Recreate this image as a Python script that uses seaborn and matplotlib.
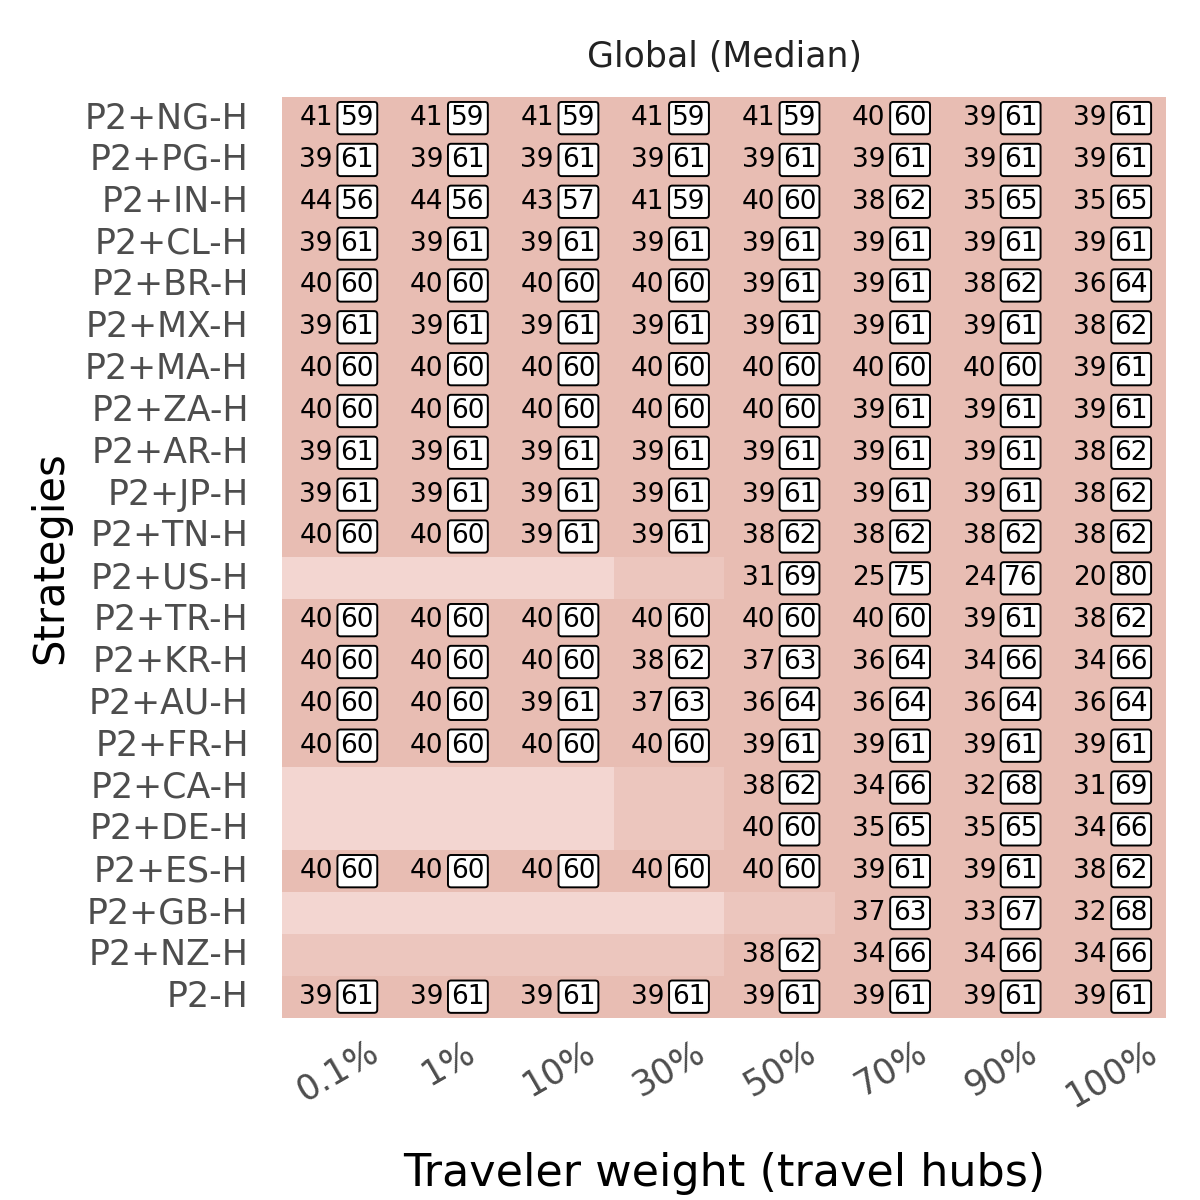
import numpy as np
import pandas as pd
import matplotlib.pyplot as plt
import seaborn as sns
from matplotlib.colors import ListedColormap

strategies = ["P2+NG-H", "P2+PG-H", "P2+IN-H", "P2+CL-H", "P2+BR-H", "P2+MX-H",
              "P2+MA-H", "P2+ZA-H", "P2+AR-H", "P2+JP-H", "P2+TN-H", "P2+US-H",
              "P2+TR-H", "P2+KR-H", "P2+AU-H", "P2+FR-H", "P2+CA-H", "P2+DE-H",
              "P2+ES-H", "P2+GB-H", "P2+NZ-H", "P2-H"]
weights = ["0.1%", "1%", "10%", "30%", "50%", "70%", "90%", "100%"]

# left share per cell (right share = 100 - left); NaN = no result
N = np.nan
left = [
    [41, 41, 41, 41, 41, 40, 39, 39],
    [39, 39, 39, 39, 39, 39, 39, 39],
    [44, 44, 43, 41, 40, 38, 35, 35],
    [39, 39, 39, 39, 39, 39, 39, 39],
    [40, 40, 40, 40, 39, 39, 38, 36],
    [39, 39, 39, 39, 39, 39, 39, 38],
    [40, 40, 40, 40, 40, 40, 40, 39],
    [40, 40, 40, 40, 40, 39, 39, 39],
    [39, 39, 39, 39, 39, 39, 39, 38],
    [39, 39, 39, 39, 39, 39, 39, 38],
    [40, 40, 39, 39, 38, 38, 38, 38],
    [N, N, N, N, 31, 25, 24, 20],
    [40, 40, 40, 40, 40, 40, 39, 38],
    [40, 40, 40, 38, 37, 36, 34, 34],
    [40, 40, 39, 37, 36, 36, 36, 36],
    [40, 40, 40, 40, 39, 39, 39, 39],
    [N, N, N, N, 38, 34, 32, 31],
    [N, N, N, N, 40, 35, 35, 34],
    [40, 40, 40, 40, 40, 39, 39, 38],
    [N, N, N, N, N, 37, 33, 32],
    [N, N, N, N, 38, 34, 34, 34],
    [39, 39, 39, 39, 39, 39, 39, 39],
]
# background shade level per cell (0 light, 1 mid, 2 full)
shade = [
    [2] * 8, [2] * 8, [2] * 8, [2] * 8, [2] * 8, [2] * 8, [2] * 8, [2] * 8,
    [2] * 8, [2] * 8, [2] * 8,
    [0, 0, 0, 1, 2, 2, 2, 2],
    [2] * 8, [2] * 8, [2] * 8, [2] * 8,
    [0, 0, 0, 1, 2, 2, 2, 2],
    [0, 0, 0, 1, 2, 2, 2, 2],
    [2] * 8,
    [0, 0, 0, 0, 1, 2, 2, 2],
    [1, 1, 1, 1, 2, 2, 2, 2],
    [2] * 8,
]

df_shade = pd.DataFrame(shade, index=strategies, columns=weights)
df_left = pd.DataFrame(left, index=strategies, columns=weights)

plt.rcParams['font.family'] = ['DejaVu Sans']
fig = plt.figure(figsize=(12, 12), dpi=100)
ax = fig.add_axes([0.235, 0.152, 0.737, 0.767])
cmap = ListedColormap(["#F3D6D1", "#ECC6BE", "#E8BDB3"])
sns.heatmap(df_shade, cmap=cmap, vmin=-0.5, vmax=2.5, cbar=False, ax=ax)

for i, s in enumerate(strategies):
    for j, w in enumerate(weights):
        v = df_left.loc[s, w]
        if np.isnan(v):
            continue
        ax.text(j + 0.46, i + 0.5, f"{int(v)}", ha="right", va="center", fontsize=19)
        ax.text(j + 0.53, i + 0.5, f"{int(100 - v)}", ha="left", va="center", fontsize=19,
                bbox=dict(boxstyle="round,pad=0.12", fc="white", ec="black", lw=1.4))

ax.set_title("Global (Median)", fontsize=25, color="#222222", pad=22)
ax.set_xlabel("Traveler weight (travel hubs)", fontsize=32, labelpad=28)
ax.set_ylabel("Strategies", fontsize=30, labelpad=10)
ax.tick_params(length=0)
ax.tick_params(axis="y", pad=24)
ax.tick_params(axis="x", pad=12)
ax.set_yticklabels(strategies, rotation=0, fontsize=25, color="#4d4d4d")
ax.set_xticklabels(weights, rotation=30, fontsize=25, color="#4d4d4d", ha="center")
fig.savefig("out.png", dpi=100)
